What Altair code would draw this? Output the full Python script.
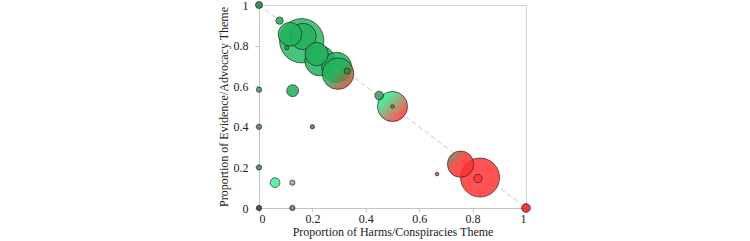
import altair as alt
import pandas as pd

# Bubble data
harms    = [0.0, 0.077, 0.16, 0.116, 0.165, 0.104, 0.216, 0.228, 0.291, 0.296, 0.33, 0.45, 0.50, 0.50,
            0.667, 0.755, 0.828, 0.82, 1.0, 0.0, 0.0, 0.0, 0.0, 0.2, 0.126, 0.06, 0.125, 0.125]
evidence = [1.0, 0.923, 0.824, 0.856, 0.845, 0.79, 0.758, 0.725, 0.693, 0.662, 0.675, 0.554, 0.50, 0.50,
            0.167, 0.216, 0.15, 0.145, 0.0, 0.583, 0.4, 0.2, 0.0, 0.4, 0.578, 0.125, 0.125, 0.0]
count    = [1.3, 1.4, 51, 14.5, 18, 0.45, 14, 23.6, 23.6, 26, 0.9, 2.0, 23.6, 0.33,
            0.33, 18, 39.5, 1.8, 2.0, 0.73, 0.73, 0.73, 0.73, 0.5, 3.7, 2.5, 0.73, 0.73]
tone     = ["#1f7a40", "#22a857", "#2ab863", "#22b15a", "#22b15a", "#2a9a55", "#22b15a", "#22b15a",
            "#22b15a", "gradA", "#3c8a50", "#3a9a5c", "gradB", "#3f8a60",
            "#c94848", "gradC", "#ff3535", "#ff3535", "#ee1a1a", "#3a9a60", "#4f7d68", "#4f7d68",
            "#2f3d50", "#4f7d68", "#22ab58", "#4be89a", "#a0a0a0", "#8a6670"]

diag_x = [0, 1]
diag_y = [1, 0]
tick_vals = [0, 0.2, 0.4, 0.6, 0.8, 1]

df = pd.DataFrame({"x": harms, "y": evidence, "n": count, "tone": tone})
diag = pd.DataFrame({"x": diag_x, "y": diag_y})

FONT = "Liberation Serif"

xs = alt.Scale(domain=[0, 1], nice=False)
ys = alt.Scale(domain=[0, 1], nice=False)
size_scale = alt.Scale(domain=[0, 51], range=[0, 1963])

x_axis = alt.Axis(values=tick_vals, format=".1~f", labelFont=FONT, titleFont=FONT,
                  labelFontSize=12, titleFontSize=12, labelPadding=1, titlePadding=2,
                  tickSize=4, grid=False, domainColor="#c4c4c4", tickColor="#c4c4c4",
                  labelColor="#222", titleColor="#222", titleFontWeight="normal")
y_axis = alt.Axis(values=tick_vals, format=".1~f", labelFont=FONT, titleFont=FONT,
                  labelFontSize=12, titleFontSize=12, labelPadding=7, titlePadding=3,
                  tickSize=4, grid=False, domainColor="#c4c4c4", tickColor="#c4c4c4",
                  labelColor="#222", titleColor="#222", titleFontWeight="normal")

x_enc = alt.X("x:Q", scale=xs, title="Proportion of Harms/Conspiracies Theme", axis=x_axis)
y_enc = alt.Y("y:Q", scale=ys, title="Proportion of Evidence/Advocacy Theme", axis=y_axis)

line = alt.Chart(diag).mark_line(color="#c8c8c8", strokeDash=[5, 3], strokeWidth=1).encode(
    x=x_enc, y=y_enc)

base = alt.Chart(df)
stroke_props = dict(stroke="#1a1a1a", strokeOpacity=0.7, strokeWidth=0.9, opacity=1)

solid_big = base.transform_filter(
    "indexof(datum.tone, 'grad') < 0 && datum.n > 3"
).transform_calculate(neg="-datum.n").mark_circle(fillOpacity=0.85, **stroke_props).encode(
    x=x_enc, y=y_enc,
    size=alt.Size("n:Q", scale=size_scale, legend=None),
    fill=alt.Fill("tone:N", scale=None),
    order=alt.Order("neg:Q"),
)

def grad_layer(name, stops):
    g = alt.LinearGradient(
        gradient="linear",
        stops=[alt.GradientStop(color=c, offset=o) for c, o in stops],
        x1=0, y1=0, x2=1, y2=1,
    )
    return base.transform_filter(f"datum.tone == '{name}'").mark_circle(
        fill=g, fillOpacity=0.85, **stroke_props
    ).encode(x=x_enc, y=y_enc, size=alt.Size("n:Q", scale=size_scale, legend=None))

gradA = grad_layer("gradA", [("#22b15a", 0.0), ("#22b15a", 0.45), ("#ff3030", 0.95)])
gradB = grad_layer("gradB", [("#2fe88a", 0.0), ("#2fe88a", 0.25), ("#ff3a3a", 0.8)])
gradC = grad_layer("gradC", [("#3a9a50", 0.0), ("#ff3030", 0.45), ("#ff3030", 1.0)])

solid_small = base.transform_filter(
    "indexof(datum.tone, 'grad') < 0 && datum.n <= 3"
).mark_circle(fillOpacity=0.85, **stroke_props).encode(
    x=x_enc, y=y_enc,
    size=alt.Size("n:Q", scale=size_scale, legend=None),
    fill=alt.Fill("tone:N", scale=None),
)

chart = alt.layer(line, solid_big, gradA, gradB, gradC, solid_small).properties(
    width=267, height=203,
    autosize=alt.AutoSizeParams(type="none"),
    padding={"left": 259, "top": 5, "right": 224, "bottom": 33},
).configure(
    font=FONT
).configure_view(
    stroke="#d4d4d4", strokeWidth=1
)

chart.save("out.html", embed_options={"renderer": "svg", "actions": False})
